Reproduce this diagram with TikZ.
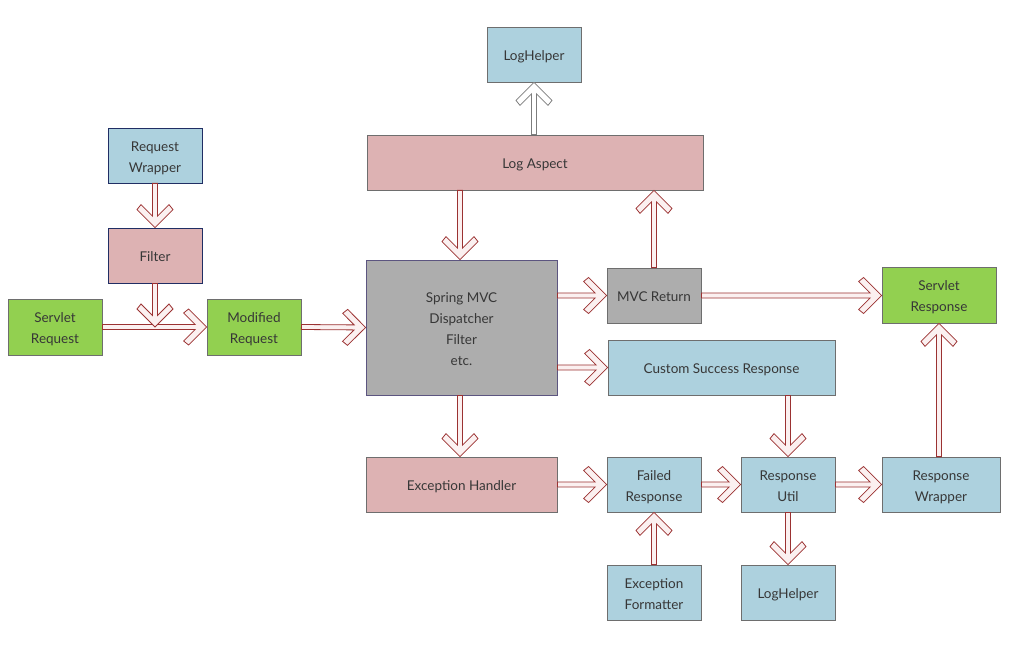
\documentclass[tikz,border=0pt]{standalone}
\usepackage{fontspec}
\setmainfont{Lato}
\usetikzlibrary{calc,shadows}
\definecolor{bluef}{RGB}{173,209,222}
\definecolor{pinkf}{RGB}{221,178,179}
\definecolor{greenf}{RGB}{146,208,80}
\definecolor{grayf}{RGB}{173,173,173}
\definecolor{bordg}{RGB}{110,110,110}
\definecolor{bordn}{RGB}{32,46,100}
\definecolor{bordp}{RGB}{92,85,128}
\definecolor{arrred}{RGB}{155,50,50}
\definecolor{arrfill}{RGB}{251,240,240}
\definecolor{txt}{RGB}{55,55,55}
\newcommand{\fTop}{\rule{0pt}{16.6pt}}
\newcommand{\fBot}{\rule[-4pt]{0pt}{0pt}}
\begin{document}
\begin{tikzpicture}[x=1pt,y=-1pt,
  box/.style={draw=bordg, line width=0.8pt, text=txt, align=center,
    font=\fontsize{13.5}{21}\selectfont, inner sep=2pt,
    drop shadow={shadow xshift=1.2pt, shadow yshift=-1.2pt, opacity=0.25, fill=black!50}},
  bbox/.style={box, fill=bluef},
  pbox/.style={box, fill=pinkf},
  gbox/.style={box, fill=greenf},
  ybox/.style={box, fill=grayf},
  sz/.style 2 args={minimum width=#1, minimum height=#2},
  barrow/.style={draw=arrred, fill=arrfill, line width=0.8pt, line join=miter,
    to path={
      ($(\tikztostart)!2.5pt!90:(\tikztotarget)$)
      -- ($(\tikztotarget)!11.5pt!(\tikztostart)!2.5pt!-90:(\tikztostart)$)
      -- ($(\tikztotarget)!23pt!(\tikztostart)!14pt!-90:(\tikztostart)$)
      -- ($(\tikztotarget)!18pt!(\tikztostart)!18pt!-90:(\tikztostart)$)
      -- (\tikztotarget)
      -- ($(\tikztotarget)!18pt!(\tikztostart)!18pt!90:(\tikztostart)$)
      -- ($(\tikztotarget)!23pt!(\tikztostart)!14pt!90:(\tikztostart)$)
      -- ($(\tikztotarget)!11.5pt!(\tikztostart)!2.5pt!90:(\tikztostart)$)
      -- ($(\tikztostart)!2.5pt!-90:(\tikztotarget)$)
      -- cycle}},
  garrow/.style={barrow, draw=bordg!90, fill=white}
]
\useasboundingbox[fill=white] (0,0) rectangle (1034,666);

\node[bbox, draw=bordn, sz={94}{55}] (rw) at (155,155.5) {\fTop Request\\Wrapper\fBot};
\node[pbox, draw=bordn, sz={94}{55}] (filt) at (155,255.5) {\fTop Filter\fBot};
\node[gbox, sz={94}{56}] (sreq) at (55,327) {\fTop Servlet\\Request\fBot};
\node[gbox, sz={94}{56}] (mreq) at (254,327) {\fTop Modified\\Request\fBot};
\node[ybox, draw=bordp, sz={191}{135}] (spring) at (461.5,327.5) {\fTop Spring MVC\\Dispatcher\\Filter\\etc.\fBot};
\node[pbox, sz={336}{55}] (aspect) at (535,162.5) {\fTop Log Aspect\fBot};
\node[bbox, sz={94}{55}] (lh1) at (534,54.5) {\fTop LogHelper\fBot};
\node[ybox, sz={94}{55}] (mvc) at (654,295.5) {\fTop MVC Return\fBot};
\node[gbox, sz={114}{56}] (sresp) at (939,295) {\fTop Servlet\\Response\fBot};
\node[bbox, sz={227}{55}] (css) at (721.5,367.5) {\fTop Custom Success Response\fBot};
\node[pbox, sz={191}{55}] (exh) at (461.5,484.5) {\fTop Exception Handler\fBot};
\node[bbox, sz={94}{55}] (fail) at (654,484.5) {\fTop Failed\\Response\fBot};
\node[bbox, sz={94}{55}] (rutil) at (788,484.5) {\fTop Response\\Util\fBot};
\node[bbox, sz={118}{55}] (rwrap) at (941,484.5) {\fTop Response\\Wrapper\fBot};
\node[bbox, sz={94}{55}] (exf) at (654,592.5) {\fTop Exception\\Formatter\fBot};
\node[bbox, sz={94}{55}] (lh2) at (788,592.5) {\fTop LogHelper\fBot};

\coordinate (j) at (filt.south |- sreq.east);
\coordinate (asp1) at ($(aspect.south)+(-75,0)$);
\coordinate (sp1) at (asp1 |- spring.north);

\draw[barrow] (rw.south) to (filt.north);
\draw[barrow] (sreq.east) to (mreq.west);
\draw[barrow] (filt.south) to (j);
\draw[barrow] (mreq.east) to (spring.west);
\draw[barrow] (asp1) to (sp1);
\draw[garrow] (aspect.north -| lh1.south) to (lh1.south);
\draw[barrow] (spring.east |- mvc.west) to (mvc.west);
\draw[barrow] (spring.east |- css.west) to (css.west);
\draw[barrow] (spring.south -| asp1) to (exh.north -| asp1);
\draw[barrow] (mvc.north) to (mvc.north |- aspect.south);
\draw[barrow] (mvc.east) to (mvc.east -| sresp.west);
\draw[barrow] (rutil.north |- css.south) to (rutil.north);
\draw[barrow] (exh.east) to (fail.west);
\draw[barrow] (fail.east) to (rutil.west);
\draw[barrow] (rutil.east) to (rwrap.west);
\draw[barrow] (sresp.south |- rwrap.north) to (sresp.south);
\draw[barrow] (exf.north) to (fail.south);
\draw[barrow] (rutil.south) to (lh2.north);
\end{tikzpicture}
\end{document}
